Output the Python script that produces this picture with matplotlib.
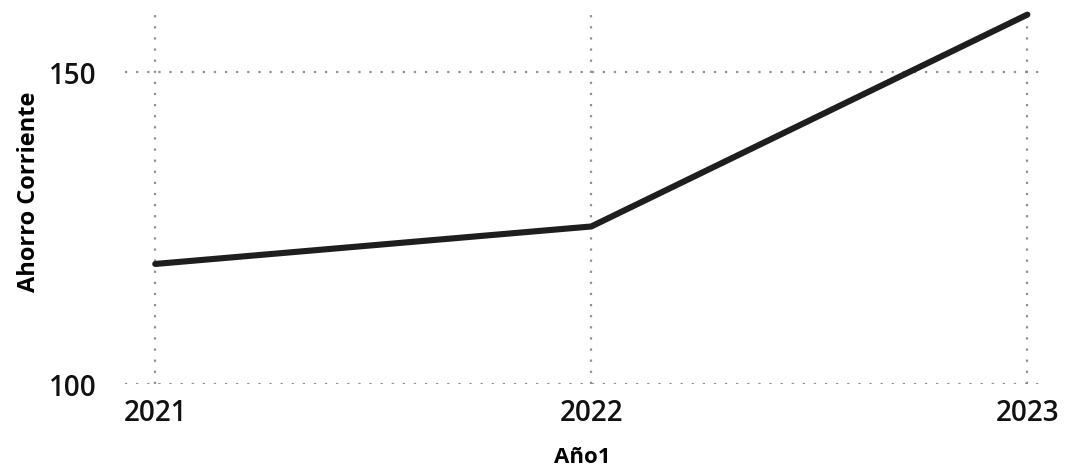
import matplotlib
matplotlib.use("Agg")
import matplotlib.pyplot as plt

years = [2021, 2022, 2023]
ahorro = [119.2, 125.2, 159.1]
yticks = [100, 150]

plt.rcParams['font.family'] = ['Open Sans', 'DejaVu Sans']

fig = plt.figure(figsize=(10.66, 4.77), dpi=100)
ax = fig.add_axes([0.117, 0.193, 0.859, 0.786])
ax.plot(years, ahorro, color='#1e1e1e', linewidth=4.4, solid_capstyle='round')
ax.set_xlim(2020.93, 2023.03)
ax.set_ylim(100, 160)
ax.set_xticks(years)
ax.set_xticklabels([str(y) for y in years])
ax.set_yticks(yticks)
ax.grid(True, linestyle=(0, (1, 4)), color='#9a8a90', linewidth=1.6)
for s in ax.spines.values():
    s.set_visible(False)
ax.tick_params(axis='both', length=0, labelsize=20, colors='#111111')
for lab in ax.get_xticklabels() + ax.get_yticklabels():
    lab.set_fontweight(600)
ax.tick_params(axis='y', pad=20)
ax.tick_params(axis='x', pad=10)
ax.set_xlabel('Año1', fontsize=16, fontweight='bold', labelpad=14)
ax.set_ylabel('Ahorro Corriente', fontsize=17, fontweight='bold')
ax.yaxis.set_label_coords(-0.091, 0.515)
fig.savefig('out.png', dpi=100)
